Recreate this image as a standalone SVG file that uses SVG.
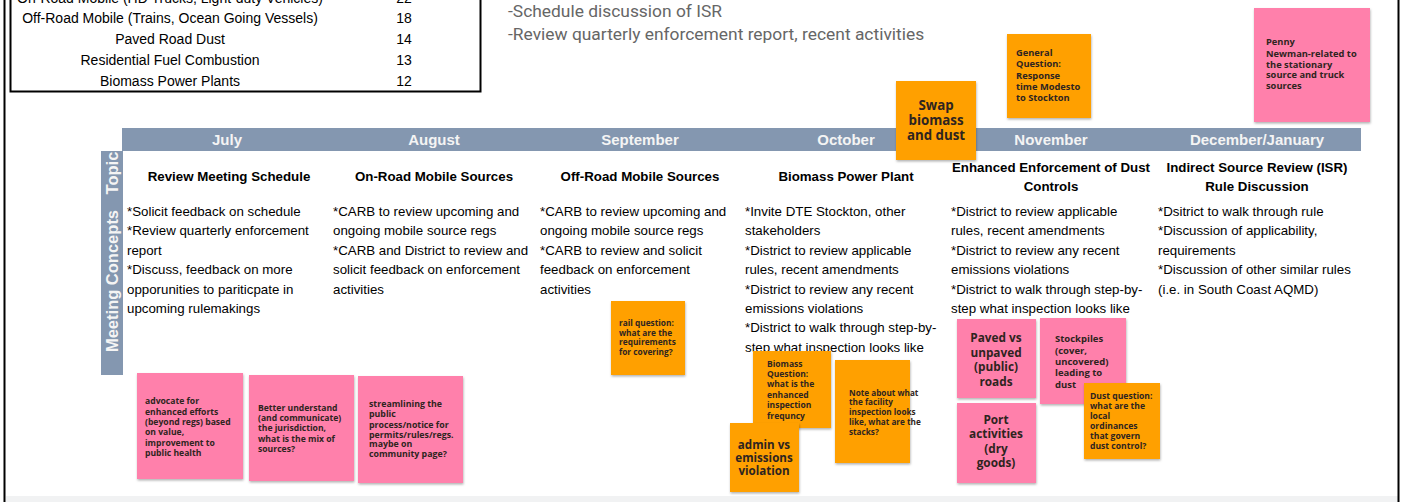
<svg xmlns="http://www.w3.org/2000/svg" width="1403" height="502" viewBox="0 0 1403 502">
<defs>
<filter id="sh" x="-10%" y="-10%" width="130%" height="130%"><feDropShadow dx="0.5" dy="1.5" stdDeviation="1" flood-color="#000" flood-opacity="0.3"/></filter>
<style>
.tbl{font-family:"Liberation Sans",Arial,sans-serif;font-size:14px;fill:#000}
.top{font-family:Roboto,"Liberation Sans",sans-serif;font-size:17.4px;fill:#666}
.bar{fill:#8497b0}
.mon{font-family:"Liberation Sans",Arial,sans-serif;font-weight:bold;font-size:15px;fill:#f4f4f4;text-anchor:middle}
.side{font-family:"Liberation Sans",Arial,sans-serif;font-weight:bold;font-size:16.5px;fill:#f4f4f4;text-anchor:middle}
.ttl{font-family:"Liberation Sans",Arial,sans-serif;font-weight:bold;font-size:13.3px;fill:#000;text-anchor:middle}
.body{font-family:"Liberation Sans",Arial,sans-serif;font-size:13.3px;fill:#000}
.or{fill:#ffa000;filter:url(#sh)}
.pk{fill:#ff80ab;filter:url(#sh)}
.st{font-family:"Open Sans","Liberation Sans",sans-serif;font-weight:bold;fill:#2e2420}
</style>
</defs>
<rect width="1403" height="502" fill="#fff"/>
<rect x="6" y="496" width="1392" height="6" fill="#f1f2f3"/>
<line x1="4.5" y1="0" x2="4.5" y2="502" stroke="#000" stroke-width="2"/>
<line x1="1398.5" y1="0" x2="1398.5" y2="502" stroke="#000" stroke-width="2"/>

<g id="source-table">
<rect x="10.5" y="-10" width="470" height="101.5" fill="#fff" stroke="#000" stroke-width="2"/>
<text class="tbl" x="170" y="3" text-anchor="middle">On-Road Mobile (HD Trucks, Light-duty Vehicles)</text>
<text class="tbl" x="404" y="3" text-anchor="middle">22</text>
<text class="tbl" x="170" y="23" text-anchor="middle">Off-Road Mobile (Trains, Ocean Going Vessels)</text>
<text class="tbl" x="404" y="23" text-anchor="middle">18</text>
<text class="tbl" x="170" y="44" text-anchor="middle">Paved Road Dust</text>
<text class="tbl" x="404" y="44" text-anchor="middle">14</text>
<text class="tbl" x="170" y="65" text-anchor="middle">Residential Fuel Combustion</text>
<text class="tbl" x="404" y="65" text-anchor="middle">13</text>
<text class="tbl" x="170" y="86" text-anchor="middle">Biomass Power Plants</text>
<text class="tbl" x="404" y="86" text-anchor="middle">12</text>
</g>

<g id="agenda-notes">
<text class="top" x="508" y="17">-Schedule discussion of ISR</text>
<text class="top" x="508" y="40">-Review quarterly enforcement report, recent activities</text>
</g>

<g id="header">
<rect class="bar" x="122" y="128" width="1239" height="23"/>
<rect class="bar" x="101" y="151" width="22" height="224"/>
<text class="mon" x="227" y="145">July</text>
<text class="mon" x="434" y="145">August</text>
<text class="mon" x="640" y="145">September</text>
<text class="mon" x="846" y="145">October</text>
<text class="mon" x="1051" y="145">November</text>
<text class="mon" x="1257" y="145">December/January</text>
<text class="side" transform="translate(118,173) rotate(-90)">Topic</text>
<text class="side" transform="translate(118,281) rotate(-90)">Meeting Concepts</text>
</g>

<g id="col-july">
<text class="ttl" x="229" y="181">Review Meeting Schedule</text>
<text class="body"><tspan x="127" y="216">*Solicit feedback on schedule</tspan><tspan x="127" y="235">*Review quarterly enforcement</tspan><tspan x="127" y="255">report</tspan><tspan x="127" y="274">*Discuss, feedback on more</tspan><tspan x="127" y="294">opporunities to pariticpate in</tspan><tspan x="127" y="313">upcoming rulemakings</tspan></text>
</g>
<g id="col-august">
<text class="ttl" x="434" y="181">On-Road Mobile Sources</text>
<text class="body"><tspan x="333" y="216">*CARB to review upcoming and</tspan><tspan x="333" y="235">ongoing mobile source regs</tspan><tspan x="333" y="255">*CARB and District to review and</tspan><tspan x="333" y="274">solicit feedback on enforcement</tspan><tspan x="333" y="294">activities</tspan></text>
</g>
<g id="col-september">
<text class="ttl" x="640" y="181">Off-Road Mobile Sources</text>
<text class="body"><tspan x="540" y="216">*CARB to review upcoming and</tspan><tspan x="540" y="235">ongoing mobile source regs</tspan><tspan x="540" y="255">*CARB to review and solicit</tspan><tspan x="540" y="274">feedback on enforcement</tspan><tspan x="540" y="294">activities</tspan></text>
</g>
<g id="col-october">
<text class="ttl" x="846" y="181">Biomass Power Plant</text>
<text class="body"><tspan x="745" y="216">*Invite DTE Stockton, other</tspan><tspan x="745" y="235">stakeholders</tspan><tspan x="745" y="255">*District to review applicable</tspan><tspan x="745" y="274">rules, recent amendments</tspan><tspan x="745" y="294">*District to review any recent</tspan><tspan x="745" y="313">emissions violations</tspan><tspan x="745" y="332">*District to walk through step-by-</tspan><tspan x="745" y="352">step what inspection looks like</tspan></text>
</g>
<g id="col-november">
<text class="ttl"><tspan x="1051" y="172">Enhanced Enforcement of Dust</tspan><tspan x="1051" y="191">Controls</tspan></text>
<text class="body"><tspan x="951" y="216">*District to review applicable</tspan><tspan x="951" y="235">rules, recent amendments</tspan><tspan x="951" y="255">*District to review any recent</tspan><tspan x="951" y="274">emissions violations</tspan><tspan x="951" y="294">*District to walk through step-by-</tspan><tspan x="951" y="313">step what inspection looks like</tspan></text>
</g>
<g id="col-december">
<text class="ttl"><tspan x="1257" y="172">Indirect Source Review (ISR)</tspan><tspan x="1257" y="191">Rule Discussion</tspan></text>
<text class="body"><tspan x="1158" y="216">*Dsitrict to walk through rule</tspan><tspan x="1158" y="235">*Discussion of applicability,</tspan><tspan x="1158" y="255">requirements</tspan><tspan x="1158" y="274">*Discussion of other similar rules</tspan><tspan x="1158" y="294">(i.e. in South Coast AQMD)</tspan></text>
</g>

<g id="note-swap">
<rect class="or" x="896" y="81" width="80" height="79"/>
<text class="st" font-size="13.3" text-anchor="middle"><tspan x="936" y="110">Swap</tspan><tspan x="936" y="125">biomass</tspan><tspan x="936" y="140">and dust</tspan></text>
</g>
<g id="note-general">
<rect class="or" x="1007" y="34" width="84" height="84"/>
<text class="st" font-size="9.3"><tspan x="1016" y="56">General</tspan><tspan x="1016" y="67">Question:</tspan><tspan x="1016" y="79">Response</tspan><tspan x="1016" y="90">time Modesto</tspan><tspan x="1016" y="101">to Stockton</tspan></text>
</g>
<g id="note-penny">
<rect class="pk" x="1254" y="8" width="116" height="114"/>
<text class="st" font-size="9.3"><tspan x="1266" y="45">Penny</tspan><tspan x="1266" y="57">Newman-related to</tspan><tspan x="1266" y="68">the stationary</tspan><tspan x="1266" y="78">source and truck</tspan><tspan x="1266" y="89">sources</tspan></text>
</g>
<g id="note-rail">
<rect class="or" x="611" y="301" width="74" height="74"/>
<text class="st" font-size="8.3"><tspan x="619" y="326">rail question:</tspan><tspan x="619" y="336">what are the</tspan><tspan x="619" y="345">requirements</tspan><tspan x="619" y="355">for covering?</tspan></text>
</g>
<g id="note-advocate">
<rect class="pk" x="137" y="373" width="106" height="106"/>
<text class="st" font-size="8.6"><tspan x="145" y="404">advocate for</tspan><tspan x="145" y="415">enhanced efforts</tspan><tspan x="145" y="425">(beyond regs) based</tspan><tspan x="145" y="435">on value,</tspan><tspan x="145" y="446">improvement to</tspan><tspan x="145" y="456">public health</tspan></text>
</g>
<g id="note-understand">
<rect class="pk" x="249" y="375" width="105" height="106"/>
<text class="st" font-size="8.6"><tspan x="258" y="411">Better understand</tspan><tspan x="258" y="421">(and communicate)</tspan><tspan x="258" y="431">the jurisdiction,</tspan><tspan x="258" y="442">what is the mix of</tspan><tspan x="258" y="452">sources?</tspan></text>
</g>
<g id="note-streamlining">
<rect class="pk" x="358" y="376" width="105" height="107"/>
<text class="st" font-size="8.8"><tspan x="369" y="407">streamlining the</tspan><tspan x="369" y="417">public</tspan><tspan x="369" y="428">process/notice for</tspan><tspan x="369" y="438">permits/rules/regs.</tspan><tspan x="369" y="447">maybe on</tspan><tspan x="369" y="457">community page?</tspan></text>
</g>
<g id="note-biomass-question">
<rect class="or" x="753" y="351" width="78" height="77"/>
<text class="st" font-size="8.5"><tspan x="767" y="367">Biomass</tspan><tspan x="767" y="377">Question:</tspan><tspan x="767" y="387">what is the</tspan><tspan x="767" y="398">enhanced</tspan><tspan x="767" y="408">inspection</tspan><tspan x="767" y="419">frequncy</tspan></text>
</g>
<g id="note-note-about">
<rect class="or" x="835" y="360" width="75" height="103"/>
<text class="st" font-size="8.2"><tspan x="849" y="396">Note about what</tspan><tspan x="849" y="405">the facility</tspan><tspan x="849" y="415">inspection looks</tspan><tspan x="849" y="425">like, what are the</tspan><tspan x="849" y="435">stacks?</tspan></text>
</g>
<g id="note-admin">
<rect class="or" x="730" y="423" width="69" height="69"/>
<text class="st" font-size="11.6" text-anchor="middle"><tspan x="764" y="449">admin vs</tspan><tspan x="764" y="462">emissions</tspan><tspan x="764" y="475">violation</tspan></text>
</g>
<g id="note-paved">
<rect class="pk" x="957" y="319" width="79" height="79"/>
<text class="st" font-size="11.8" text-anchor="middle"><tspan x="996" y="342">Paved vs</tspan><tspan x="996" y="357">unpaved</tspan><tspan x="996" y="371">(public)</tspan><tspan x="996" y="386">roads</tspan></text>
</g>
<g id="note-stockpiles">
<rect class="pk" x="1040" y="318" width="86" height="86"/>
<text class="st" font-size="9.5"><tspan x="1055" y="342">Stockpiles</tspan><tspan x="1055" y="354">(cover,</tspan><tspan x="1055" y="365">uncovered)</tspan><tspan x="1055" y="376">leading to</tspan><tspan x="1055" y="388">dust</tspan></text>
</g>
<g id="note-port">
<rect class="pk" x="957" y="403" width="79" height="80"/>
<text class="st" font-size="11.8" text-anchor="middle"><tspan x="996" y="424">Port</tspan><tspan x="996" y="438">activities</tspan><tspan x="996" y="453">(dry</tspan><tspan x="996" y="467">goods)</tspan></text>
</g>
<g id="note-dust-question">
<rect class="or" x="1084" y="383" width="76" height="76"/>
<text class="st" font-size="8.6"><tspan x="1090" y="399">Dust question:</tspan><tspan x="1090" y="409">what are the</tspan><tspan x="1090" y="419">local</tspan><tspan x="1090" y="429">ordinances</tspan><tspan x="1090" y="439">that govern</tspan><tspan x="1090" y="449">dust control?</tspan></text>
</g>
<g id="connectors"/>
</svg>
